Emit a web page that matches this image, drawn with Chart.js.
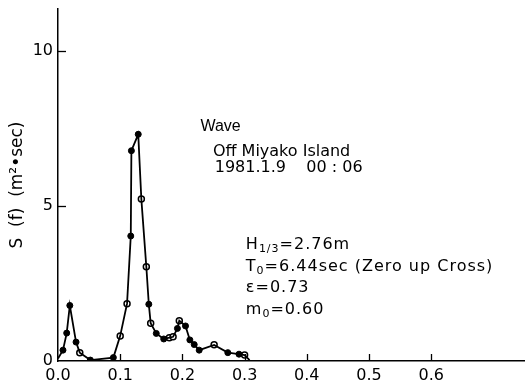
<!DOCTYPE html>
<html><head><meta charset="utf-8">
<script src="https://cdn.jsdelivr.net/npm/chart.js@4.4.1/dist/chart.umd.min.js"></script>
<style>html,body{margin:0;padding:0;background:#fff}#wrap{width:530px;height:385px;position:relative}</style>
</head><body><div id="wrap"><canvas id="c"></canvas></div>
<script>
// ---- data ----
const xTicks = [0, 0.1, 0.2, 0.3, 0.4, 0.5, 0.6];
const yTicks = [0, 5, 10];
const freqFilled = [0.008, 0.014, 0.019, 0.029, 0.052, 0.089, 0.117, 0.118, 0.129, 0.146, 0.158, 0.170, 0.192, 0.205, 0.212, 0.219, 0.227, 0.273, 0.291];
const specFilled = [0.35, 0.90, 1.79, 0.61, 0.03, 0.11, 4.03, 6.78, 7.31, 1.83, 0.89, 0.71, 1.05, 1.13, 0.68, 0.53, 0.35, 0.27, 0.22];
const freqOpen = [0.035, 0.100, 0.111, 0.134, 0.142, 0.149, 0.179, 0.185, 0.195, 0.251, 0.300];
const specOpen = [0.27, 0.81, 1.85, 5.22, 3.04, 1.22, 0.75, 0.78, 1.30, 0.52, 0.19];
const freqEnds = [0.0, 0.308];
const specEnds = [0.08, 0.03];

const toPts = (xs, ys) => xs.map((x, i) => ({x: x, y: ys[i]}));
const filledPts = toPts(freqFilled, specFilled);
const openPts = toPts(freqOpen, specOpen);
const linePts = filledPts.concat(openPts, toPts(freqEnds, specEnds)).sort((a, b) => a.x - b.x);

const FONT = '"DejaVu Sans", "Liberation Sans", sans-serif';
const FONT2 = '"Liberation Sans", Arial, sans-serif';

// annotation texts, anchored in data coordinates
const notes = [
  {x: 0.229, y: 7.55, font: FONT2, size: 16, sp: 0, segs: [['Wave']]},
  {x: 0.249, y: 6.74, font: FONT, size: 16, sp: 0, segs: [['Off Miyako Island']]},
  {x: 0.252, y: 6.23, font: FONT, size: 16, sp: 0, segs: [['1981.1.9    00 : 06']]},
  {x: 0.302, y: 3.74, font: FONT, size: 16, sp: 1, segs: [['H'], ['1/3', 1], ['=2.76m']]},
  {x: 0.302, y: 3.03, font: FONT, size: 16, sp: 1, segs: [['T'], ['0', 1], ['=6.44sec (Zero up Cross)']]},
  {x: 0.302, y: 2.35, font: FONT, size: 16, sp: 1, segs: [['ε=0.73']]},
  {x: 0.302, y: 1.65, font: FONT, size: 16, sp: 1, segs: [['m'], ['0', 1], ['=0.60']]}
];

const notesPlugin = {
  id: 'notes',
  afterDatasetsDraw(chart) {
    const ctx = chart.ctx, xs = chart.scales.x, ys = chart.scales.y;
    ctx.save();
    ctx.fillStyle = '#000';
    ctx.textBaseline = 'middle';
    ctx.textAlign = 'left';
    notes.forEach(n => {
      let px = xs.getPixelForValue(n.x);
      const py = ys.getPixelForValue(n.y);
      ctx.letterSpacing = n.sp + 'px';
      n.segs.forEach(s => {
        if (s[1]) {
          ctx.font = '11px ' + n.font;
          ctx.fillText(s[0], px, py + 4);
        } else {
          ctx.font = n.size + 'px ' + n.font;
          ctx.fillText(s[0], px, py);
        }
        px += ctx.measureText(s[0]).width;
      });
    });
    ctx.restore();
  }
};

const innerTicks = {
  id: 'innerTicks',
  afterDraw(chart) {
    const ctx = chart.ctx, xs = chart.scales.x, ys = chart.scales.y;
    ctx.save();
    ctx.strokeStyle = '#000';
    ctx.lineWidth = 1.3;
    xTicks.forEach(v => {
      if (v === 0) return;
      const p = Math.round(xs.getPixelForValue(v)) + 0.5;
      ctx.beginPath(); ctx.moveTo(p, ys.bottom); ctx.lineTo(p, ys.bottom - 7); ctx.stroke();
    });
    yTicks.forEach(v => {
      if (v === 0) return;
      const p = Math.round(ys.getPixelForValue(v)) + 0.5;
      ctx.beginPath(); ctx.moveTo(xs.left, p); ctx.lineTo(xs.left + 8, p); ctx.stroke();
    });
    ctx.restore();
  }
};

new Chart(document.getElementById('c'), {
  type: 'scatter',
  data: {
    datasets: [
      {data: linePts, showLine: true, borderColor: '#000', borderWidth: 1.8, pointRadius: 0, pointHoverRadius: 0, tension: 0},
      {data: filledPts, showLine: false, pointRadius: 3, pointBackgroundColor: '#000', pointBorderColor: '#000', pointBorderWidth: 1},
      {data: openPts, showLine: false, pointRadius: 3, pointBackgroundColor: '#fff', pointBorderColor: '#000', pointBorderWidth: 1.5}
    ]
  },
  options: {
    responsive: true,
    maintainAspectRatio: false,
    animation: false,
    events: [],
    layout: {padding: {top: 9, right: 0, bottom: 0, left: 0}},
    plugins: {legend: {display: false}, tooltip: {enabled: false}},
    scales: {
      x: {
        type: 'linear', min: 0, max: 0.75,
        afterBuildTicks: s => { s.ticks = xTicks.map(v => ({value: v})); },
        afterFit: s => { s.height = 24; s.paddingLeft = 0; s.paddingRight = 0; },
        ticks: {color: '#000', padding: 5, maxRotation: 0, font: {family: FONT, size: 16}, callback: v => v.toFixed(1)},
        grid: {display: false, drawTicks: false},
        border: {display: true, color: '#000', width: 1.5}
      },
      y: {
        type: 'linear', min: 0, max: 11.35,
        afterBuildTicks: s => { s.ticks = yTicks.map(v => ({value: v})); },
        afterFit: s => { s.width = 58; s.paddingTop = 0; s.paddingBottom = 0; },
        ticks: {color: '#000', padding: 5, font: {family: FONT, size: 16}, callback: v => String(v)},
        grid: {display: false, drawTicks: false},
        border: {display: true, color: '#000', width: 1.5},
        title: {display: true, text: 'S  (f)  (m²•sec)', color: '#000', font: {family: FONT, size: 17}, padding: {top: 7, bottom: 0}}
      }
    }
  },
  plugins: [notesPlugin, innerTicks]
});
</script>
</body></html>
